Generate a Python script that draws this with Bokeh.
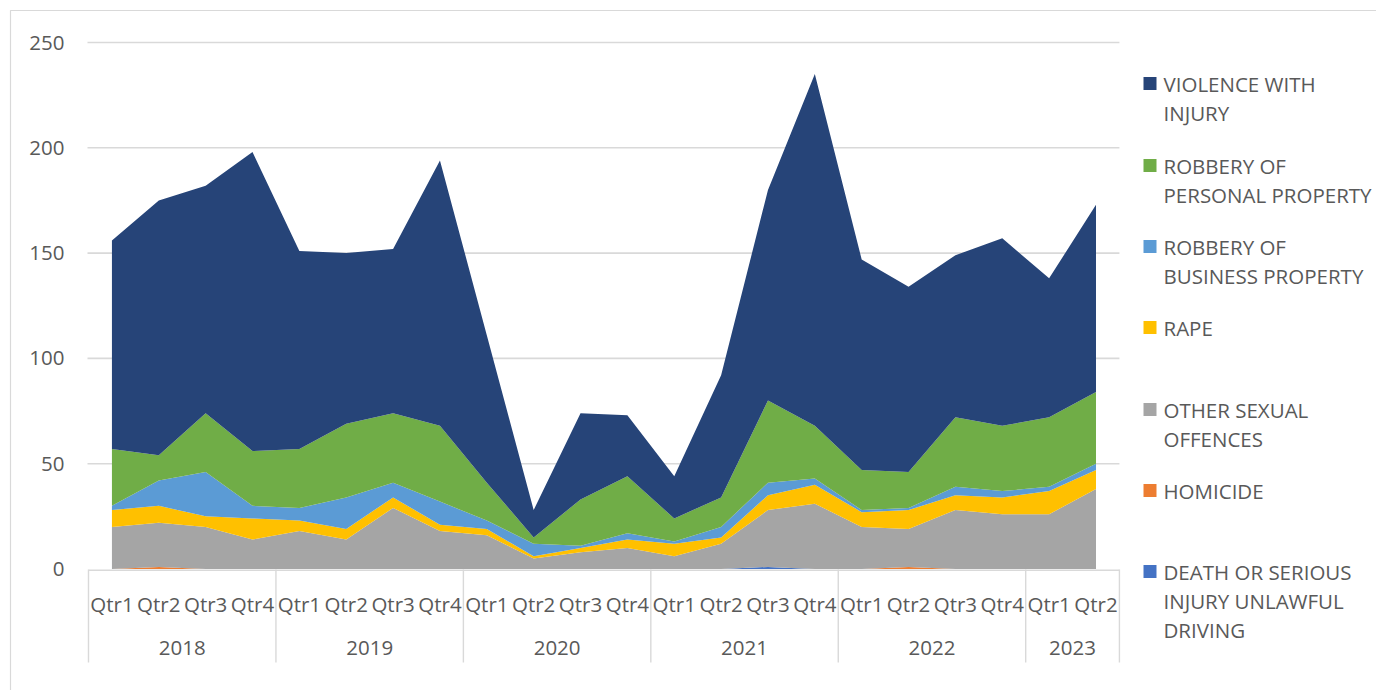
from bokeh.plotting import figure
from bokeh.models import ColumnDataSource, Range1d
from bokeh.core.properties import value
from bokeh.embed import file_html
from bokeh.resources import INLINE

# ---------------- data ----------------
quarters = ["Qtr1", "Qtr2", "Qtr3", "Qtr4"] * 5 + ["Qtr1", "Qtr2"]
years = ["2018", "2019", "2020", "2021", "2022", "2023"]
year_counts = [4, 4, 4, 4, 4, 2]

death_driving = [0, 0, 0, 0, 0, 0, 0, 0, 0, 0, 0, 0, 0, 0, 1, 0, 0, 0, 0, 0, 0, 0]
homicide = [0, 1, 0, 0, 0, 0, 0, 0, 0, 0, 0, 0, 0, 0, 0, 0, 0, 1, 0, 0, 0, 0]
other_sexual = [20, 21, 20, 14, 18, 14, 29, 18, 16, 5, 8, 10, 6, 12, 27, 31, 20, 18, 28, 26, 26, 38]
rape = [8, 8, 5, 10, 5, 5, 5, 3, 3, 1, 2, 4, 6, 3, 7, 9, 7, 9, 7, 8, 11, 9]
robbery_business = [2, 12, 21, 6, 6, 15, 7, 11, 4, 6, 1, 3, 1, 5, 6, 3, 1, 1, 4, 3, 2, 3]
robbery_personal = [27, 12, 28, 26, 28, 35, 33, 36, 18, 3, 22, 27, 11, 14, 39, 25, 19, 17, 33, 31, 33, 34]
violence_injury = [99, 121, 108, 142, 94, 81, 78, 126, 70, 13, 41, 29, 20, 58, 100, 167, 100, 88, 77, 89, 66, 89]

series_names = ["DEATH OR SERIOUS INJURY UNLAWFUL DRIVING", "HOMICIDE", "OTHER SEXUAL OFFENCES",
                "RAPE", "ROBBERY OF BUSINESS PROPERTY", "ROBBERY OF PERSONAL PROPERTY",
                "VIOLENCE WITH INJURY"]
series_cols = ["death", "homicide", "other", "rape", "rob_bus", "rob_per", "violence"]
colors = ["#4472C4", "#ED7D31", "#A5A5A5", "#FFC000", "#5B9BD5", "#70AD47", "#264478"]

legend_lines = [
    ["VIOLENCE WITH", "INJURY"],
    ["ROBBERY OF", "PERSONAL PROPERTY"],
    ["ROBBERY OF", "BUSINESS PROPERTY"],
    ["RAPE"],
    ["OTHER SEXUAL", "OFFENCES"],
    ["HOMICIDE"],
    ["DEATH OR SERIOUS", "INJURY UNLAWFUL", "DRIVING"],
]
legend_colors = colors[::-1]
y_ticks = [0, 50, 100, 150, 200, 250]

# ---------------- layout helpers (picture pixels -> data) ----------------
W, H = 1376, 690
OFF = 0                 # picture offset of the canvas
CAT_W = 46.86           # px per category
X0_PAGE = 88.0          # picture x of category 0 left edge
Y0_PAGE = 568.5         # picture y of value 0
PX_PER_UNIT = 2.106


def px(page_x):
    return (page_x - X0_PAGE) / CAT_W


def py(page_y):
    return (Y0_PAGE - page_y) / PX_PER_UNIT


n = len(quarters)
xs = [i + 0.5 for i in range(n)]
source = ColumnDataSource(dict(
    x=xs, death=death_driving, homicide=homicide, other=other_sexual, rape=rape,
    rob_bus=robbery_business, rob_per=robbery_personal, violence=violence_injury))

p = figure(width=W, height=H, output_backend="svg", toolbar_location=None,
           x_range=Range1d(px(OFF), px(OFF + W)), y_range=Range1d(py(OFF + H), py(OFF)),
           min_border=0, min_border_left=0, min_border_right=0,
           min_border_top=0, min_border_bottom=0)
p.xaxis.visible = False
p.yaxis.visible = False
p.xgrid.visible = False
p.ygrid.visible = False
p.outline_line_color = None
p.background_fill_color = "white"
p.border_fill_color = "white"

GRID = "#d9d9d9"
TXT = "#595959"
FONT = value("Open Sans")

# chart border
p.line([px(10), px(10), px(1400)], [py(720), py(10), py(10)], line_color=GRID, line_width=1.2)

# horizontal gridlines
gx0, gx1 = px(87), float(n)
for t in y_ticks[1:]:
    p.line([gx0, gx1], [t, t], line_color=GRID, line_width=1.6)

# stacked areas
p.varea_stack(stackers=series_cols, x="x", color=colors, source=source)

# category axis frame
p.line([0, n], [py(569.8), py(569.8)], line_color=GRID, line_width=1.6)
seps = [0]
for c in year_counts:
    seps.append(seps[-1] + c)
for s in seps:
    p.line([s, s], [py(569), py(662)], line_color=GRID, line_width=1.4)

# quarter labels
p.text(x=xs, y=[py(603)] * n, text=quarters, text_font=FONT, text_font_size="20.5px",
       text_color=TXT, text_align="center", text_baseline="middle")
# year labels
ycent = [(seps[i] + seps[i + 1]) / 2 for i in range(len(years))]
p.text(x=ycent, y=[py(647)] * len(years), text=years, text_font=FONT, text_font_size="20.5px",
       text_color=TXT, text_align="center", text_baseline="middle")

# y tick labels
p.text(x=[px(64)] * len(y_ticks), y=y_ticks, text=[str(t) for t in y_ticks], text_font=FONT,
       text_font_size="20.5px", text_color=TXT, text_align="right", text_baseline="middle")

# legend
first_line_y = [83, 165, 246, 327, 409, 490, 571]
lx, ly, lt = [], [], []
for lines, y0 in zip(legend_lines, first_line_y):
    for k, s in enumerate(lines):
        lx.append(px(1163))
        ly.append(py(y0 + 29 * k))
        lt.append(s)
p.scatter(x=[px(1149.5)] * len(first_line_y), y=[py(v) for v in first_line_y], marker="square",
          size=13, fill_color=legend_colors, line_color=None)
p.text(x=lx, y=ly, text=lt, text_font=FONT, text_font_size="20.5px", text_color=TXT,
       text_align="left", text_baseline="middle")

open("out.html", "w").write(file_html(p, INLINE))
